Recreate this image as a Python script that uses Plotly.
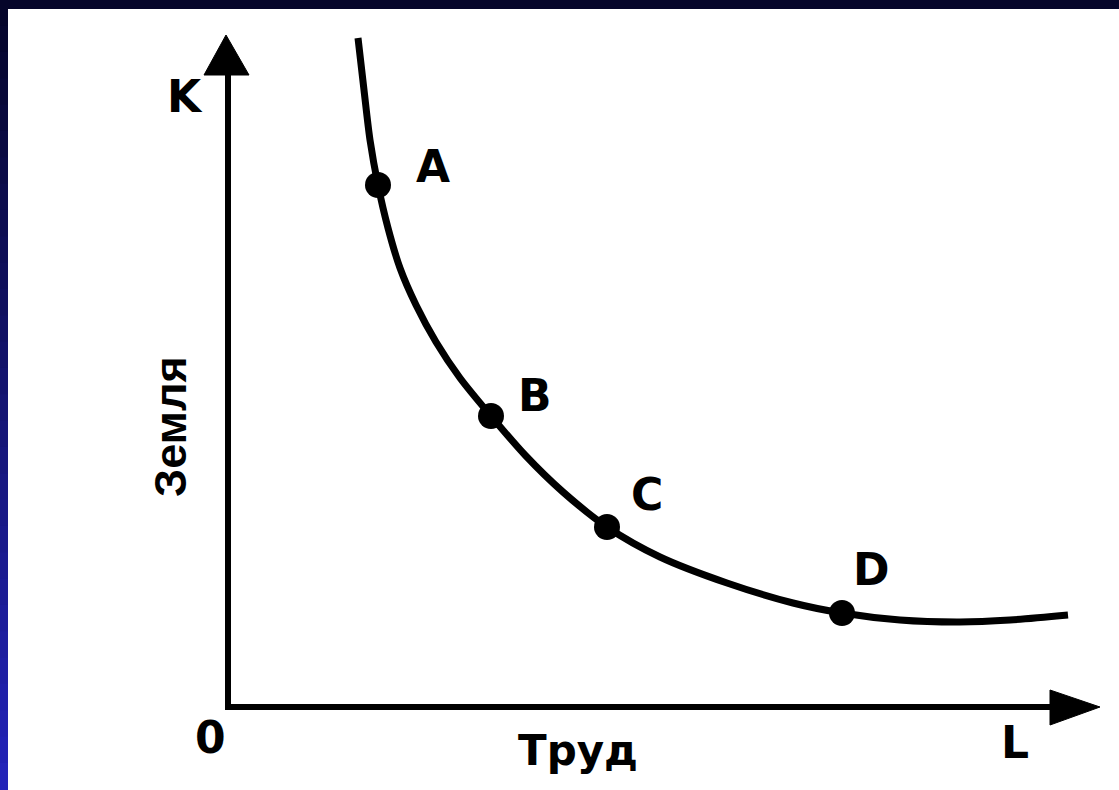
import plotly.graph_objects as go

# isoquant curve (labour L, land K), arbitrary units, origin at 0
curve_l = [1.30, 1.36, 1.42, 1.50, 1.60, 1.72, 1.88, 2.08, 2.32, 2.63, 2.97,
           3.35, 3.79, 4.32, 4.99, 5.65, 6.14, 6.72, 7.32, 7.82, 8.40]
curve_k = [6.69, 6.17, 5.67, 5.22, 4.79, 4.39, 4.02, 3.65, 3.29, 2.91, 2.52,
           2.15, 1.80, 1.50, 1.24, 1.04, 0.94, 0.87, 0.85, 0.87, 0.92]

point_names = ["A", "B", "C", "D"]
point_l = [1.50, 2.63, 3.79, 6.14]
point_k = [5.22, 2.91, 1.80, 0.94]

x_len = 8.72   # length of L axis (to arrow tip)
y_len = 6.72   # length of K axis (to arrow tip)

W, H = 1119, 790
font = "DejaVu Sans, Verdana, sans-serif"
narrow = "Liberation Sans, Arial, sans-serif"

fig = go.Figure()

fig.add_trace(go.Scatter(x=curve_l, y=curve_k, mode="lines",
                         line=dict(color="black", width=7, shape="spline", smoothing=0.8),
                         hoverinfo="skip"))
fig.add_trace(go.Scatter(x=point_l, y=point_k, mode="markers",
                         marker=dict(color="black", size=26), hoverinfo="skip"))

shapes = []
# axes lines
shapes.append(dict(type="line", x0=0, y0=0, x1=0, y1=y_len - 0.38,
                   line=dict(color="black", width=6)))
shapes.append(dict(type="line", x0=-0.03, y0=0, x1=x_len - 0.48, y1=0,
                   line=dict(color="black", width=6)))
# arrowheads
shapes.append(dict(type="path",
                   path=f"M -0.24,{y_len-0.40} L 0.21,{y_len-0.40} L -0.02,{y_len} Z",
                   fillcolor="black", line=dict(color="black", width=1)))
shapes.append(dict(type="path",
                   path=f"M {x_len-0.50},0.17 L {x_len-0.50},-0.18 L {x_len},0.0 Z",
                   fillcolor="black", line=dict(color="black", width=1)))

# slide frame: dark top band and left gradient strip
shapes.append(dict(type="rect", xref="paper", yref="paper", x0=0, x1=1,
                   y0=1 - 9 / H, y1=1, fillcolor="#05052a", line_width=0, layer="above"))
n = 30
c0 = (5, 5, 42)
c1 = (36, 36, 184)
for i in range(n):
    t = i / (n - 1)
    col = "rgb({},{},{})".format(*[int(a + (b - a) * t) for a, b in zip(c0, c1)])
    shapes.append(dict(type="rect", xref="paper", yref="paper", x0=0, x1=8 / W,
                       y0=1 - (i + 1) / n, y1=1 - i / n + 0.001,
                       fillcolor=col, line_width=0, layer="above"))


def px(xp, yp):
    # pixel position -> data units (origin at 228, 707; 100 px per unit)
    return (xp - 228) / 100, (707 - yp) / 100


annotations = []
big = dict(family=font, size=44, color="black")
label_px = {"A": (433, 166), "B": (535, 395), "C": (647, 494), "D": (871, 569)}
for name in point_names:
    x, y = px(*label_px[name])
    annotations.append(dict(x=x, y=y, text=f"<b>{name}</b>", showarrow=False, font=big))
for txt, pos in [("K", (185, 96)), ("0", (210, 737)), ("L", (1015, 742))]:
    x, y = px(*pos)
    annotations.append(dict(x=x, y=y, text=f"<b>{txt}</b>", showarrow=False, font=big))
x, y = px(578, 750)
annotations.append(dict(x=x, y=y, text="<b>Труд</b>", showarrow=False,
                        font=dict(family=font, size=42, color="black")))
x, y = px(170, 427)
annotations.append(dict(x=x, y=y, text="<b>Земля</b>", showarrow=False, textangle=-90,
                        font=dict(family=narrow, size=45, color="black")))

fig.update_layout(
    width=W, height=H,
    margin=dict(l=0, r=0, t=0, b=0),
    paper_bgcolor="white", plot_bgcolor="white",
    showlegend=False,
    xaxis=dict(range=[-2.28, 8.91], visible=False, fixedrange=True),
    yaxis=dict(range=[-0.83, 7.07], visible=False, fixedrange=True),
    shapes=shapes,
    annotations=annotations,
)

fig.write_html("out.html", config={"displayModeBar": False},
               post_script="document.body.style.margin='0';")
